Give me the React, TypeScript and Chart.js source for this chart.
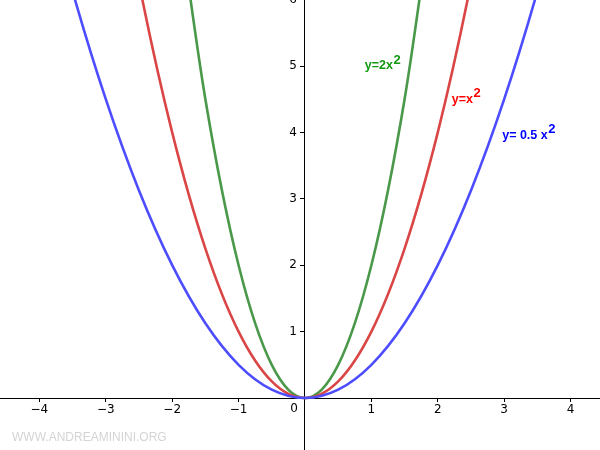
import React, { useEffect, useRef } from "react";
import { Chart, registerables } from "chart.js";

Chart.register(...registerables);

// Axis ranges and tick values (data units)
const xRange = [-4.593, 4.443];
const yRange = [-0.783, 5.994];
const xTicks = [-4, -3, -2, -1, 1, 2, 3, 4];
const yTicks = [1, 2, 3, 4, 5, 6];

// y = 0.5 x^2 (blue)
const halfX = [-4, -3.5, -3, -2.5, -2, -1.5, -1, -0.5, 0, 0.5, 1, 1.5, 2, 2.5, 3, 3.5, 4];
const halfY = [8, 6.125, 4.5, 3.125, 2, 1.125, 0.5, 0.125, 0, 0.125, 0.5, 1.125, 2, 3.125, 4.5, 6.125, 8];

// y = x^2 (red)
const oneX = [-3, -2.5, -2, -1.5, -1, -0.5, 0, 0.5, 1, 1.5, 2, 2.5, 3];
const oneY = [9, 6.25, 4, 2.25, 1, 0.25, 0, 0.25, 1, 2.25, 4, 6.25, 9];

// y = 2x^2 (green)
const twoX = [-2, -1.5, -1, -0.5, 0, 0.5, 1, 1.5, 2];
const twoY = [8, 4.5, 2, 0.5, 0, 0.5, 2, 4.5, 8];

// Curve labels: main text, superscript, anchor in data units
const labelTexts = ["y=2x", "y=x", "y= 0.5 x"];
const labelSups = ["2", "2", "2"];
const labelAtX = [0.9, 2.21, 2.97];
const labelAtY = [5.0, 4.49, 3.95];
const labelColors = ["#119911", "#ff0000", "#0000ff"];

const watermark = "WWW.ANDREAMININI.ORG";

const toPoints = (xs: number[], ys: number[]) => xs.map((x, i) => ({ x, y: ys[i] }));

const overlayPlugin = {
  id: "overlay",
  afterDatasetsDraw(chart: any) {
    const ctx = chart.ctx;
    const xs = chart.scales.x;
    const ys = chart.scales.y;
    const ax = xs.getPixelForValue(0);
    const ay = ys.getPixelForValue(0);
    ctx.save();
    // origin label
    ctx.font = "12px 'DejaVu Sans'";
    ctx.fillStyle = "#000";
    ctx.textAlign = "center";
    ctx.textBaseline = "top";
    ctx.fillText("0", ax - 11, ay + 5);

    // y tick labels
    ctx.textAlign = "right";
    ctx.textBaseline = "middle";
    for (const v of yTicks) {
      ctx.fillText(String(v), ax - 8, ys.getPixelForValue(v));
    }

    // curve labels
    ctx.textAlign = "left";
    ctx.textBaseline = "middle";
    for (let i = 0; i < labelTexts.length; i++) {
      const px = xs.getPixelForValue(labelAtX[i]);
      const py = ys.getPixelForValue(labelAtY[i]);
      ctx.font = "bold 12.5px 'Liberation Sans'";
      ctx.fillStyle = labelColors[i];
      ctx.fillText(labelTexts[i], px, py);
      const w = ctx.measureText(labelTexts[i]).width;
      ctx.font = "bold 13px 'Liberation Sans'";
      ctx.fillText(labelSups[i], px + w + 0.5, py - 6);
    }

    // watermark
    ctx.font = "12px 'Liberation Sans'";
    ctx.fillStyle = "#d4d4d4";
    ctx.textAlign = "left";
    ctx.textBaseline = "middle";
    ctx.fillText(watermark, 12, 438);
    ctx.restore();
  },
};

export default function App() {
  const ref = useRef<HTMLCanvasElement | null>(null);

  useEffect(() => {
    if (!ref.current) return;
    const lineDs = (xs: number[], ys: number[], color: string) => ({
      data: toPoints(xs, ys),
      showLine: true,
      borderColor: color,
      backgroundColor: color,
      borderWidth: 2.6,
      pointRadius: 0,
      pointHoverRadius: 0,
      cubicInterpolationMode: "monotone" as const,
      fill: false,
    });
    const chart = new Chart(ref.current, {
      type: "scatter",
      data: {
        datasets: [
          lineDs(halfX, halfY, "#4d4dff"),
          lineDs(oneX, oneY, "#da4646"),
          lineDs(twoX, twoY, "#4a984a"),
        ],
      },
      options: {
        animation: false,
        responsive: false,
        events: [],
        layout: { padding: 0 },
        elements: { line: { capBezierPoints: false } },
        plugins: { legend: { display: false }, tooltip: { enabled: false }, title: { display: false } },
        scales: {
          x: {
            type: "linear",
            position: { y: 0 } as any,
            min: xRange[0],
            max: xRange[1],
            afterBuildTicks: (s: any) => {
              s.ticks = xTicks.map((v) => ({ value: v }));
            },
            afterFit: (s: any) => {
              s.paddingLeft = 0;
              s.paddingRight = 0;
            },
            border: { display: true, color: "#000", width: 1 },
            grid: { display: true, drawOnChartArea: false, drawTicks: true, tickLength: 3, tickColor: "#000", color: "#000" },
            ticks: {
              padding: 2,
              color: "#000",
              font: { family: "'DejaVu Sans'", size: 12 },
              maxRotation: 0,
              autoSkip: false,
              callback: (v: any) => (Number(v) < 0 ? "\u2212" + Math.abs(Number(v)) : String(v)),
            },
          },
          y: {
            type: "linear",
            position: { x: 0 } as any,
            min: yRange[0],
            max: yRange[1],
            afterBuildTicks: (s: any) => {
              s.ticks = yTicks.map((v) => ({ value: v }));
            },
            afterFit: (s: any) => {
              s.paddingTop = 0;
              s.paddingBottom = 0;
            },
            border: { display: true, color: "#000", width: 1 },
            grid: { display: true, drawOnChartArea: false, drawTicks: true, tickLength: 4, tickColor: "#000", color: "#000" },
            ticks: {
              color: "#000",
              font: { family: "'DejaVu Sans'", size: 12 },
              autoSkip: false,
              callback: () => "",
            },
          },
        },
      },
      plugins: [overlayPlugin],
    });
    return () => chart.destroy();
  }, []);

  return (
    <div style={{ position: "fixed", left: 0, top: 0, width: 600, height: 450, background: "#fff" }}>
      <canvas ref={ref} width={600} height={450} style={{ display: "block", width: 600, height: 450 }} />
    </div>
  );
}
